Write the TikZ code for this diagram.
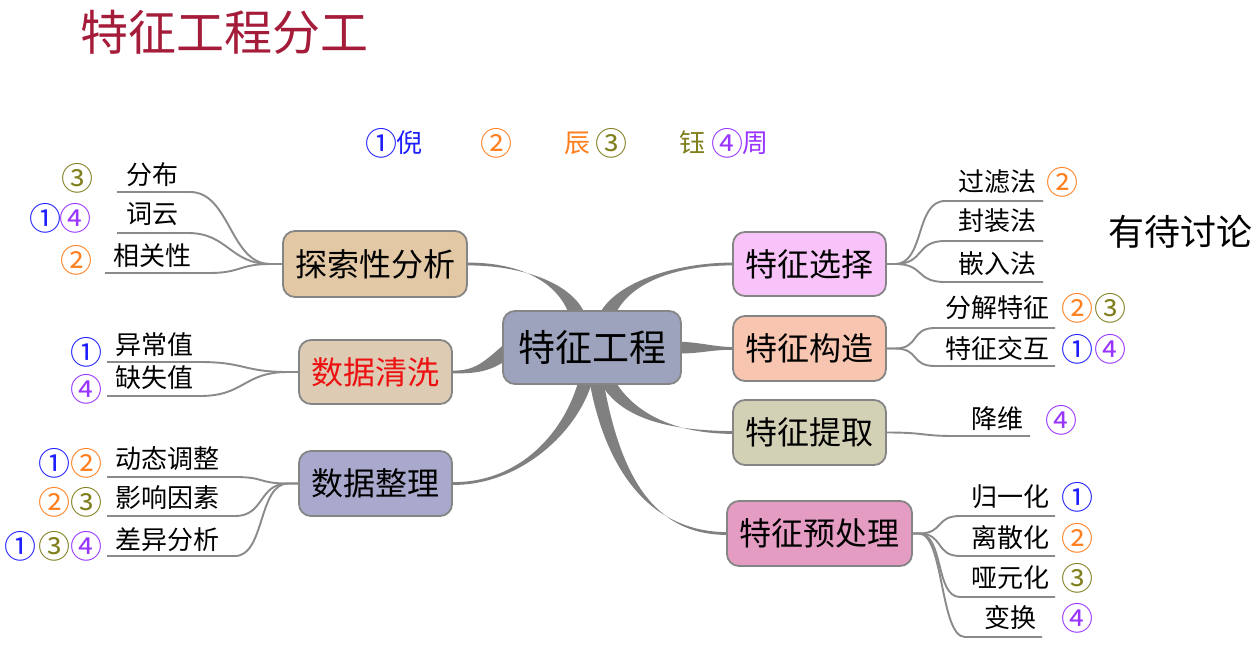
\documentclass[tikz,border=0pt]{standalone}
\usepackage{fontspec}
\setmainfont{Noto Sans CJK SC}
\usetikzlibrary{calc}

\definecolor{titlered}{HTML}{A51C3A}
\definecolor{cblue}{HTML}{1E1EFF}
\definecolor{corange}{HTML}{FF7F1E}
\definecolor{colive}{HTML}{7F7F1E}
\definecolor{cpurple}{HTML}{9933FF}
\definecolor{boxline}{HTML}{858585}
\definecolor{branchc}{HTML}{808080}
\definecolor{twigc}{HTML}{8A8A8A}
\definecolor{fctr}{HTML}{9EA3BD}
\definecolor{fexplore}{HTML}{E3C8A6}
\definecolor{fclean}{HTML}{DDCBB4}
\definecolor{ftidy}{HTML}{A9A9CD}
\definecolor{fselect}{HTML}{F7C3F8}
\definecolor{fconstruct}{HTML}{F8C5B0}
\definecolor{fextract}{HTML}{D3D1B5}
\definecolor{fprep}{HTML}{E59CC3}
\definecolor{cleanred}{HTML}{EE1111}

\pgfdeclarelayer{paper}
\pgfdeclarelayer{links}
\pgfsetlayers{paper,links,main}

\tikzset{
  hub/.style={draw=boxline, line width=1.8pt, rounded corners=12pt,
    inner sep=0pt, font=\fontsize{32}{32}\selectfont},
  leaf/.style={inner sep=0pt, font=\fontsize{26}{26}\selectfont},
  tag/.style={inner sep=0pt, font=\fontsize{32}{32}\selectfont},
  twig/.style={draw=twigc, line width=1.9pt},
}

% tapered main branch: start, start half-width vector, two controls, end, end half-width vector
\newcommand\taperbranch[6]{%
  \fill[branchc] ($#1+#2$) .. controls ($#3+#2$) and ($#4+#6$) .. ($#5+#6$)
    -- ($#5-#6$) .. controls ($#4-#6$) and ($#3-#2$) .. ($#1-#2$) -- cycle;}

% left and right ends of a leaf underline
\newcommand\leafline[4]{\coordinate (#1w) at (#2,#4); \coordinate (#1e) at (#3,#4);}

\begin{document}
\begin{tikzpicture}[x=1pt, y=-1pt]
\useasboundingbox (0,0) rectangle (1260,658);
\begin{pgfonlayer}{paper}
  \fill[white] (0,0) rectangle (1260,658);
\end{pgfonlayer}

% title and legend
\node[inner sep=0pt, text=titlered, font=\fontsize{48}{48}\selectfont] (title) at (224,32) {特征工程分工};
\node[tag, text=cblue] (lg1) at (381,143) {①};
\node[leaf, text=cblue] (lg1n) at (409,143) {倪};
\node[tag, text=corange] (lg2) at (496,143) {②};
\node[leaf, text=corange] (lg2n) at (577,143) {辰};
\node[tag, text=colive] (lg3) at (611,143) {③};
\node[leaf, text=colive] (lg3n) at (692,143) {钰};
\node[tag, text=cpurple] (lg4) at (727,143) {④};
\node[leaf, text=cpurple] (lg4n) at (755,143) {周};

% main nodes
\node[hub, fill=fctr, minimum width=178pt, minimum height=73pt, font=\fontsize{37}{37}\selectfont] (ctr) at (592,347.5) {特征工程};
\node[hub, fill=fexplore, minimum width=184pt, minimum height=66pt] (explore) at (375,264) {探索性分析};
\node[hub, fill=fclean, minimum width=153pt, minimum height=64pt, text=cleanred] (clean) at (375.5,372) {数据清洗};
\node[hub, fill=ftidy, minimum width=153pt, minimum height=65pt] (tidy) at (375.5,483.5) {数据整理};
\node[hub, fill=fselect, minimum width=153pt, minimum height=64pt] (select) at (809.5,264) {特征选择};
\node[hub, fill=fconstruct, minimum width=153pt, minimum height=65pt] (construct) at (809.5,348.5) {特征构造};
\node[hub, fill=fextract, minimum width=153pt, minimum height=65pt] (extract) at (809.5,432.5) {特征提取};
\node[hub, fill=fprep, minimum width=185pt, minimum height=65pt] (prep) at (819.5,533.5) {特征预处理};

% leaves of 探索性分析
\node[leaf] (fb) at (152,175) {分布};   \leafline{fb}{117}{190}{192}
\node[leaf] (cy) at (152,214) {词云};   \leafline{cy}{117}{188}{233}
\node[leaf] (xg) at (152,256) {相关性}; \leafline{xg}{105}{210}{273}
\node[tag, text=colive] (t1) at (77,178) {③};
\node[tag, text=cblue] (t2) at (45,218) {①};
\node[tag, text=cpurple] (t3) at (75,218) {④};
\node[tag, text=corange] (t4) at (76,260) {②};

% leaves of 数据清洗
\node[leaf] (yc) at (154,345) {异常值}; \leafline{yc}{107}{200}{362}
\node[leaf] (qs) at (154,378) {缺失值}; \leafline{qs}{107}{200}{396}
\node[tag, text=cblue] (t5) at (86,352) {①};
\node[tag, text=cpurple] (t6) at (86,389) {④};

% leaves of 数据整理
\node[leaf] (dt) at (167,459) {动态调整}; \leafline{dt}{107}{235}{477}
\node[leaf] (yx) at (167,498) {影响因素}; \leafline{yx}{107}{235}{516}
\node[leaf] (cf) at (167,540) {差异分析}; \leafline{cf}{107}{235}{556}
\node[tag, text=cblue] (t7) at (54,463) {①};
\node[tag, text=corange] (t8) at (86,463) {②};
\node[tag, text=corange] (t9) at (54,502) {②};
\node[tag, text=colive] (t10) at (86,502) {③};
\node[tag, text=cblue] (t11) at (21,546) {①};
\node[tag, text=colive] (t12) at (54,546) {③};
\node[tag, text=cpurple] (t13) at (86,546) {④};

% leaves of 特征选择
\node[leaf] (gl) at (997,182) {过滤法}; \leafline{gl}{945}{1043}{201}
\node[leaf] (fz) at (997,221) {封装法}; \leafline{fz}{945}{1043}{241}
\node[leaf] (qr) at (997,264) {嵌入法}; \leafline{qr}{945}{1043}{282}
\node[tag, text=corange] (t14) at (1062,182) {②};
\node[inner sep=0pt, font=\fontsize{36}{36}\selectfont] (open) at (1180,232) {有待讨论};

% leaves of 特征构造
\node[leaf] (fj) at (997,308) {分解特征}; \leafline{fj}{935}{1055}{328}
\node[leaf] (jh) at (997,349) {特征交互}; \leafline{jh}{935}{1055}{366}
\node[tag, text=corange] (t15) at (1077,308) {②};
\node[tag, text=colive] (t16) at (1110,308) {③};
\node[tag, text=cblue] (t17) at (1077,349) {①};
\node[tag, text=cpurple] (t18) at (1110,349) {④};

% leaves of 特征提取
\node[leaf] (jw) at (997,419) {降维}; \leafline{jw}{955}{1030}{436}
\node[tag, text=cpurple] (t19) at (1061,420) {④};

% leaves of 特征预处理
\node[leaf] (gy) at (1010,497) {归一化}; \leafline{gy}{960}{1055}{516}
\node[leaf] (ls) at (1010,538) {离散化}; \leafline{ls}{960}{1055}{556}
\node[leaf] (yy) at (1010,578) {哑元化}; \leafline{yy}{960}{1055}{597}
\node[leaf] (bh) at (1010,618) {变换};   \leafline{bh}{965}{1042}{637}
\node[tag, text=cblue] (t20) at (1077,497) {①};
\node[tag, text=corange] (t21) at (1077,538) {②};
\node[tag, text=colive] (t22) at (1077,578) {③};
\node[tag, text=cpurple] (t23) at (1077,618) {④};

\begin{pgfonlayer}{links}
  % thick tapered branches out of the centre
  \coordinate (s1) at ($(ctr.north)+(-14,7)$);
  \coordinate (s2) at ($(ctr.north)+(14,7)$);
  \coordinate (s3) at ($(ctr.west)+(9,0)$);
  \coordinate (s4) at ($(ctr.east)+(-7,0)$);
  \coordinate (s5) at ($(ctr.south)+(-6,-6)$);
  \coordinate (s6) at ($(ctr.south)+(14,-6)$);
  \coordinate (s7) at ($(ctr.south)+(4,-6)$);
  \taperbranch{(s1)}{(8,0)}{(568,285)}{(525,264)}{(explore.east)}{(0,1.4)}
  \taperbranch{(s2)}{(8,0)}{(620,283)}{(675,264)}{(select.west)}{(0,1.4)}
  \taperbranch{(s3)}{(5,5)}{(488,368)}{(475,372)}{(clean.east)}{(0,1.4)}
  \taperbranch{(s4)}{(0,6)}{(700,348)}{(712,348)}{(construct.west)}{(0,1.4)}
  \taperbranch{(s5)}{(7,0)}{(572,432)}{(520,484)}{(tidy.east)}{(0,1.4)}
  \taperbranch{(s6)}{(6,-3)}{(628,420)}{(680,432)}{(extract.west)}{(0,1.4)}
  \taperbranch{(s7)}{(7,0)}{(612,470)}{(650,533)}{(prep.west)}{(0,1.4)}

  % thin twigs to the leaves
  \draw[twig] (explore.west) -- ++(-12,0) .. controls +(-40,0) and +(40,0) .. (fbe) -- (fbw);
  \draw[twig] (explore.west) -- ++(-12,0) .. controls +(-40,0) and +(40,0) .. (cye) -- (cyw);
  \draw[twig] (explore.west) -- ++(-12,0) .. controls +(-30,0) and +(30,0) .. (xge) -- (xgw);
  \draw[twig] (clean.west) -- ++(-10,0) .. controls +(-45,0) and +(45,0) .. (yce) -- (ycw);
  \draw[twig] (clean.west) -- ++(-10,0) .. controls +(-45,0) and +(45,0) .. (qse) -- (qsw);
  \draw[twig] (tidy.west) -- ++(-10,0) .. controls +(-30,0) and +(30,0) .. (dte) -- (dtw);
  \draw[twig] (tidy.west) -- ++(-10,0) .. controls +(-30,0) and +(30,0) .. (yxe) -- (yxw);
  \draw[twig] (tidy.west) -- ++(-10,0) .. controls +(-30,0) and +(30,0) .. (cfe) -- (cfw);
  \draw[twig] (select.east) -- ++(8,0) .. controls +(30,0) and +(-30,0) .. (glw) -- (gle);
  \draw[twig] (select.east) -- ++(8,0) .. controls +(30,0) and +(-30,0) .. (fzw) -- (fze);
  \draw[twig] (select.east) -- ++(8,0) .. controls +(30,0) and +(-30,0) .. (qrw) -- (qre);
  \draw[twig] (construct.east) -- ++(8,0) .. controls +(25,0) and +(-25,0) .. (fjw) -- (fje);
  \draw[twig] (construct.east) -- ++(8,0) .. controls +(25,0) and +(-25,0) .. (jhw) -- (jhe);
  \draw[twig] (extract.east) .. controls +(40,0) and +(-35,0) .. (jww) -- (jwe);
  \draw[twig] (prep.east) -- ++(6,0) .. controls +(25,0) and +(-25,0) .. (gyw) -- (gye);
  \draw[twig] (prep.east) -- ++(6,0) .. controls +(25,0) and +(-25,0) .. (lsw) -- (lse);
  \draw[twig] (prep.east) -- ++(6,0) .. controls +(25,0) and +(-25,0) .. (yyw) -- (yye);
  \draw[twig] (prep.east) -- ++(6,0) .. controls +(25,0) and +(-25,0) .. (bhw) -- (bhe);
\end{pgfonlayer}
\end{tikzpicture}
\end{document}
